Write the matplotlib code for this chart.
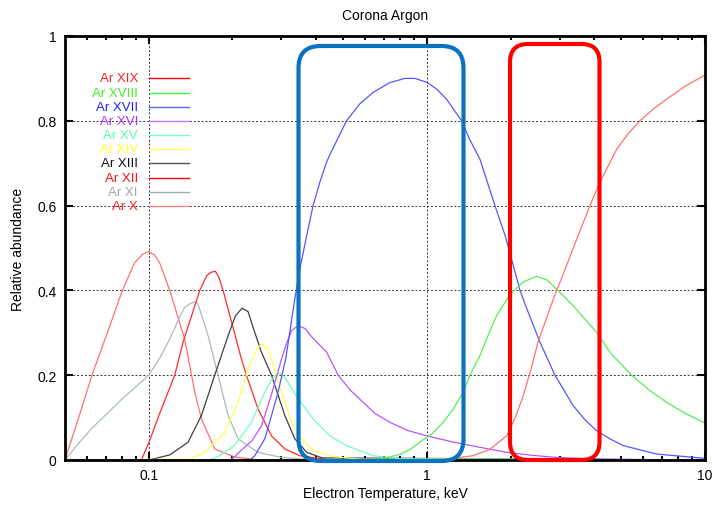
import matplotlib
matplotlib.use("Agg")
import matplotlib.pyplot as plt
from matplotlib.patches import FancyBboxPatch
from matplotlib.transforms import IdentityTransform
from matplotlib.ticker import FixedLocator, NullFormatter

plt.rcParams['font.family'] = ['Liberation Sans', 'DejaVu Sans']

# ion fractions (temperature in keV, relative abundance)
ar10_t = [0.05, 0.056, 0.0625, 0.071, 0.0804, 0.089, 0.095, 0.1, 0.105, 0.1095, 0.119, 0.1347, 0.1464, 0.1547, 0.1727, 0.2039, 0.25, 10]
ar10_f = [0.0, 0.1, 0.2, 0.3, 0.4, 0.465, 0.485, 0.492, 0.483, 0.465, 0.4, 0.285, 0.16, 0.097, 0.026, 0.007, 0.0, 0.0]

ar11_t = [0.05, 0.056, 0.0625, 0.071, 0.0804, 0.089, 0.1, 0.1095, 0.119, 0.1297, 0.1347, 0.1404, 0.1464, 0.1504, 0.1635, 0.1775, 0.1929, 0.2096, 0.2473, 0.3002, 0.4, 10]
ar11_f = [0.0, 0.04, 0.075, 0.11, 0.145, 0.17, 0.2, 0.24, 0.285, 0.34, 0.36, 0.368, 0.373, 0.368, 0.293, 0.2, 0.105, 0.05, 0.018, 0.006, 0.0, 0.0]

ar12_t = [0.05, 0.0941, 0.1, 0.1095, 0.124, 0.1329, 0.1526, 0.1617, 0.168, 0.1737, 0.179, 0.1851, 0.1929, 0.2155, 0.2246, 0.2473, 0.2764, 0.3085, 0.3493, 0.45, 10]
ar12_f = [0.0, 0.0, 0.04, 0.11, 0.2, 0.278, 0.4, 0.435, 0.443, 0.445, 0.43, 0.4, 0.356, 0.238, 0.2, 0.12, 0.057, 0.026, 0.01, 0.0, 0.0]

ar13_t = [0.05, 0.1, 0.119, 0.1385, 0.1547, 0.1727, 0.1929, 0.205, 0.2166, 0.2276, 0.238, 0.2543, 0.2764, 0.3085, 0.3352, 0.37, 0.42, 10]
ar13_f = [0.0, 0.0, 0.012, 0.042, 0.105, 0.2, 0.293, 0.34, 0.358, 0.35, 0.31, 0.254, 0.2, 0.105, 0.05, 0.018, 0.005, 0.0]

ar14_t = [0.05, 0.1404, 0.159, 0.1877, 0.2096, 0.2276, 0.245, 0.2556, 0.265, 0.2764, 0.3002, 0.3262, 0.3493, 0.3899, 0.4598, 0.574, 10]
ar14_f = [0.0, 0.002, 0.018, 0.065, 0.136, 0.215, 0.262, 0.274, 0.265, 0.238, 0.16, 0.09, 0.055, 0.022, 0.008, 0.002, 0.0]

ar15_t = [0.05, 0.165, 0.1775, 0.2039, 0.2341, 0.2614, 0.2764, 0.296, 0.3085, 0.34, 0.3899, 0.4478, 0.5143, 0.641, 0.8, 10]
ar15_f = [0.0, 0.0, 0.008, 0.035, 0.089, 0.16, 0.19, 0.205, 0.195, 0.15, 0.097, 0.057, 0.034, 0.01, 0.003, 0.0]

ar16_t = [0.05, 0.1956, 0.2039, 0.2126, 0.2347, 0.2543, 0.2764, 0.3002, 0.313, 0.3262, 0.3444, 0.365, 0.3858, 0.4357, 0.4798, 0.53, 0.59, 0.65, 0.736, 0.85,
          0.9975, 1.25, 1.551, 1.935, 2.4, 2.928, 3.5, 4.43, 10]
ar16_f = [0.0, 0.0, 0.008, 0.02, 0.045, 0.08, 0.155, 0.238, 0.275, 0.305, 0.317, 0.31, 0.29, 0.255, 0.2, 0.165, 0.136, 0.11, 0.089, 0.07,
          0.057, 0.042, 0.03, 0.018, 0.011, 0.006, 0.004, 0.002, 0.0]

ar17_t = [0.05, 0.2308, 0.2406, 0.2614, 0.2764, 0.2918, 0.3111, 0.3352, 0.3493, 0.3686, 0.3899, 0.4122, 0.4357, 0.4478, 0.5143, 0.574, 0.641, 0.736,
          0.8336, 0.905, 0.9975, 1.084, 1.177, 1.333, 1.428, 1.551, 1.757, 1.91, 2.017, 2.161, 2.309, 2.55, 2.887, 3.36, 3.7, 4.078, 4.55, 5.084,
          5.838, 6.705, 9.594, 10]
ar17_f = [0.0, 0.0, 0.01, 0.05, 0.105, 0.16, 0.24, 0.38, 0.45, 0.525, 0.6, 0.655, 0.702, 0.72, 0.8, 0.84, 0.867, 0.89,
          0.9, 0.9, 0.891, 0.875, 0.851, 0.8, 0.755, 0.71, 0.6, 0.53, 0.474, 0.4, 0.35, 0.278, 0.2, 0.128, 0.095, 0.069, 0.05, 0.034,
          0.024, 0.014, 0.005, 0.004]

ar18_t = [0.05, 0.574, 0.6775, 0.8, 0.87, 0.9437, 1.05, 1.145, 1.25, 1.351, 1.428, 1.551, 1.65, 1.781, 1.989, 2.221, 2.481, 2.7, 2.928, 3.4,
          4.078, 4.6, 5.45, 6.3, 7.281, 8.5, 10]
ar18_f = [0.0, 0.0, 0.002, 0.013, 0.025, 0.042, 0.063, 0.089, 0.122, 0.16, 0.2, 0.246, 0.29, 0.34, 0.39, 0.42, 0.433, 0.425, 0.403, 0.36,
          0.301, 0.25, 0.2, 0.165, 0.136, 0.11, 0.087]

ar19_t = [0.05, 1.114, 1.464, 1.685, 1.935, 2.08, 2.221, 2.37, 2.514, 2.887, 3.1, 3.36, 3.6, 3.858, 4.191, 4.5, 4.814, 5.3, 5.838, 6.5, 7.281, 8.5, 10]
ar19_f = [0.0, 0.0, 0.01, 0.025, 0.057, 0.1, 0.152, 0.215, 0.28, 0.39, 0.44, 0.5, 0.55, 0.6, 0.655, 0.695, 0.733, 0.77, 0.8, 0.827, 0.851, 0.882, 0.908]

labels = ['Ar XIX', 'Ar XVIII', 'Ar XVII', 'Ar XVI', 'Ar XV', 'Ar XIV', 'Ar XIII', 'Ar XII', 'Ar XI', 'Ar X']
series = [(ar19_t, ar19_f), (ar18_t, ar18_f), (ar17_t, ar17_f), (ar16_t, ar16_f), (ar15_t, ar15_f),
          (ar14_t, ar14_f), (ar13_t, ar13_f), (ar12_t, ar12_f), (ar11_t, ar11_f), (ar10_t, ar10_f)]
line_colors = ['#ff7070', '#55ee55', '#5555ff', '#b455ff', '#70ffb8', '#ffff50', '#404040', '#ff2a2a', '#a8bcbc', '#ff7070']
text_colors = ['#ff2020', '#44ee22', '#2222ee', '#aa33ff', '#55ffaa', '#ffff33', '#111111', '#ff1010', '#99aaaa', '#ff2020']
legend_line_colors = ['#ff0000', '#44ee44', '#6666ff', '#cc77ff', '#77ffbb', '#ffff66', '#555555', '#ff0000', '#99b0b0', '#ff8080']

fig = plt.figure(figsize=(7.12, 5.06), dpi=100)
ax = fig.add_axes([65 / 712, 45 / 506, 640 / 712, 424 / 506])

for (t, f), c in zip(series[::-1], line_colors[::-1]):
    ax.plot(t, f, color=c, lw=0.9)

ax.set_xscale('log')
ax.set_xlim(0.05, 10)
ax.set_ylim(0, 1)
ax.xaxis.set_major_locator(FixedLocator([0.1, 1, 10]))
ax.set_xticklabels(['0.1', '1', '10'])
ax.xaxis.set_minor_locator(FixedLocator([0.06, 0.07, 0.08, 0.09, 0.2, 0.3, 0.4, 0.5, 0.6, 0.7, 0.8, 0.9,
                                         2, 3, 4, 5, 6, 7, 8, 9]))
ax.xaxis.set_minor_formatter(NullFormatter())
ax.set_yticks([0, 0.2, 0.4, 0.6, 0.8, 1])
ax.set_yticklabels(['0', '0.2', '0.4', '0.6', '0.8', '1'])
ax.tick_params(which='both', direction='in', top=True, right=True, labelsize=10, width=1.5, colors='black')
ax.tick_params(which='major', length=6, pad=6)
ax.tick_params(which='minor', length=3)
for s in ax.spines.values():
    s.set_linewidth(2)
ax.grid(True, which='major', color='#333333', linestyle=(0, (2, 2)), lw=0.7)

ax.set_title('Corona Argon', fontsize=10, pad=12)
ax.set_xlabel('Electron Temperature, keV', fontsize=10, labelpad=3)
ax.set_ylabel('Relative abundance', fontsize=10, labelpad=9)

# hand-made key, gnuplot style
for i, lab in enumerate(labels):
    y = 0.900 - i * 0.0334
    ax.text(0.114, y, lab, transform=ax.transAxes, ha='right', va='center', fontsize=9.5, color=text_colors[i])
    ax.plot([0.131, 0.194], [y, y], transform=ax.transAxes, color=legend_line_colors[i], lw=1)

# highlight boxes (pixel coordinates)
blue_box = FancyBboxPatch((298.5, 44), 165, 415, boxstyle='round,pad=0,rounding_size=22',
                          transform=IdentityTransform(), fill=False, ec='#0a72c2', lw=3)
red_box = FancyBboxPatch((510, 45), 89.5, 416, boxstyle='round,pad=0,rounding_size=18',
                         transform=IdentityTransform(), fill=False, ec='#ff0000', lw=3)
fig.add_artist(blue_box)
fig.add_artist(red_box)

fig.savefig('out.png', dpi=100)
